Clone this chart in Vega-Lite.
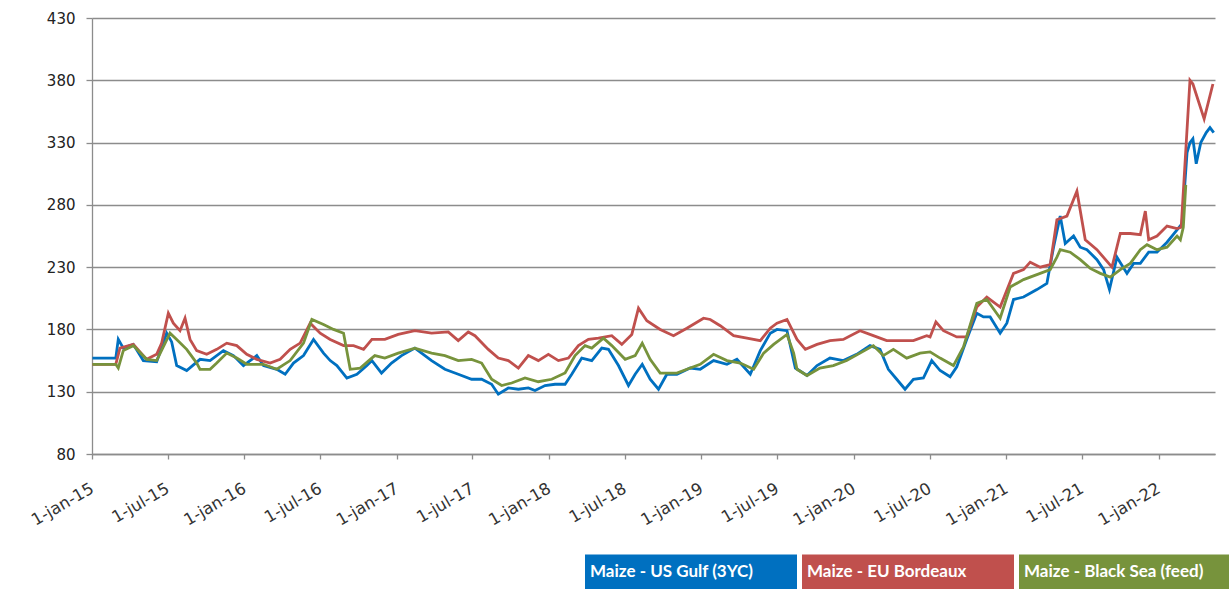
{
"$schema": "https://vega.github.io/schema/vega-lite/v6.json",
"width": 1123, "height": 436,
"autosize": {"type": "none"},
"padding": {"left": 92, "top": 18, "right": 14, "bottom": 135},
"background": "white",
"config": {"view": {"stroke": null}},
"datasets": {
"us": [{"d":"2015-01-02","v":157},{"d":"2015-02-27","v":157},{"d":"2015-03-05","v":172},{"d":"2015-03-17","v":165},{"d":"2015-04-10","v":168},{"d":"2015-05-04","v":155},{"d":"2015-06-05","v":154},{"d":"2015-06-29","v":177},{"d":"2015-07-11","v":170},{"d":"2015-07-23","v":151},{"d":"2015-08-16","v":147},{"d":"2015-09-17","v":156},{"d":"2015-10-11","v":155},{"d":"2015-11-12","v":163},{"d":"2015-12-06","v":159},{"d":"2015-12-30","v":151},{"d":"2016-01-31","v":159},{"d":"2016-02-16","v":151},{"d":"2016-03-19","v":148},{"d":"2016-04-08","v":144},{"d":"2016-04-28","v":153},{"d":"2016-05-22","v":159},{"d":"2016-06-15","v":172},{"d":"2016-07-09","v":161},{"d":"2016-07-25","v":155},{"d":"2016-08-10","v":151},{"d":"2016-09-03","v":141},{"d":"2016-09-27","v":144},{"d":"2016-10-21","v":151},{"d":"2016-11-02","v":155},{"d":"2016-11-25","v":145},{"d":"2016-12-19","v":153},{"d":"2017-01-12","v":159},{"d":"2017-02-13","v":165},{"d":"2017-03-01","v":161},{"d":"2017-03-25","v":155},{"d":"2017-04-26","v":148},{"d":"2017-05-28","v":144},{"d":"2017-06-29","v":140},{"d":"2017-07-23","v":140},{"d":"2017-08-16","v":136},{"d":"2017-09-01","v":128},{"d":"2017-09-25","v":133},{"d":"2017-10-19","v":132},{"d":"2017-11-12","v":133},{"d":"2017-11-28","v":131},{"d":"2017-12-22","v":135},{"d":"2018-01-15","v":136},{"d":"2018-02-08","v":136},{"d":"2018-02-24","v":144},{"d":"2018-03-20","v":157},{"d":"2018-04-13","v":155},{"d":"2018-05-07","v":165},{"d":"2018-05-23","v":164},{"d":"2018-06-16","v":151},{"d":"2018-07-10","v":135},{"d":"2018-07-26","v":144},{"d":"2018-08-12","v":152},{"d":"2018-08-31","v":140},{"d":"2018-09-20","v":132},{"d":"2018-10-10","v":144},{"d":"2018-11-03","v":144},{"d":"2018-12-05","v":149},{"d":"2018-12-29","v":148},{"d":"2019-01-30","v":155},{"d":"2019-03-03","v":152},{"d":"2019-03-27","v":156},{"d":"2019-04-28","v":144},{"d":"2019-05-22","v":163},{"d":"2019-06-15","v":177},{"d":"2019-07-01","v":180},{"d":"2019-07-25","v":179},{"d":"2019-08-14","v":149},{"d":"2019-09-11","v":143},{"d":"2019-10-05","v":151},{"d":"2019-11-05","v":157},{"d":"2019-12-07","v":155},{"d":"2020-01-08","v":160},{"d":"2020-02-09","v":167},{"d":"2020-03-04","v":164},{"d":"2020-03-24","v":148},{"d":"2020-04-13","v":140},{"d":"2020-05-03","v":132},{"d":"2020-05-23","v":140},{"d":"2020-06-16","v":141},{"d":"2020-07-06","v":155},{"d":"2020-07-26","v":147},{"d":"2020-08-19","v":142},{"d":"2020-09-04","v":150},{"d":"2020-09-28","v":172},{"d":"2020-10-22","v":193},{"d":"2020-11-07","v":190},{"d":"2020-11-23","v":190},{"d":"2020-12-17","v":177},{"d":"2021-01-02","v":185},{"d":"2021-01-18","v":204},{"d":"2021-02-11","v":206},{"d":"2021-02-27","v":209},{"d":"2021-03-15","v":212},{"d":"2021-04-08","v":217},{"d":"2021-04-24","v":246},{"d":"2021-05-10","v":271},{"d":"2021-05-22","v":249},{"d":"2021-06-11","v":255},{"d":"2021-06-27","v":246},{"d":"2021-07-13","v":244},{"d":"2021-08-06","v":236},{"d":"2021-08-22","v":228},{"d":"2021-09-05","v":212},{"d":"2021-09-23","v":238},{"d":"2021-10-17","v":225},{"d":"2021-11-02","v":233},{"d":"2021-11-18","v":233},{"d":"2021-12-08","v":242},{"d":"2021-12-28","v":242},{"d":"2022-01-21","v":250},{"d":"2022-02-14","v":260},{"d":"2022-02-26","v":265},{"d":"2022-03-10","v":322},{"d":"2022-03-17","v":330},{"d":"2022-03-24","v":333},{"d":"2022-04-01","v":313},{"d":"2022-04-12","v":330},{"d":"2022-04-25","v":338},{"d":"2022-05-04","v":342},{"d":"2022-05-13","v":338}],
"eu": [{"d":"2015-01-02","v":152},{"d":"2015-02-27","v":152},{"d":"2015-03-09","v":165},{"d":"2015-04-10","v":168},{"d":"2015-05-12","v":156},{"d":"2015-06-05","v":160},{"d":"2015-06-17","v":169},{"d":"2015-07-03","v":193},{"d":"2015-07-15","v":185},{"d":"2015-07-31","v":179},{"d":"2015-08-12","v":189},{"d":"2015-08-24","v":172},{"d":"2015-09-09","v":163},{"d":"2015-10-03","v":160},{"d":"2015-10-27","v":164},{"d":"2015-11-20","v":169},{"d":"2015-12-14","v":167},{"d":"2016-01-07","v":160},{"d":"2016-01-31","v":156},{"d":"2016-03-03","v":153},{"d":"2016-03-27","v":156},{"d":"2016-04-20","v":164},{"d":"2016-05-14","v":169},{"d":"2016-06-07","v":185},{"d":"2016-07-01","v":177},{"d":"2016-07-25","v":172},{"d":"2016-08-26","v":167},{"d":"2016-09-19","v":167},{"d":"2016-10-13","v":164},{"d":"2016-11-02","v":172},{"d":"2016-12-03","v":172},{"d":"2017-01-04","v":176},{"d":"2017-02-13","v":179},{"d":"2017-03-25","v":177},{"d":"2017-05-04","v":178},{"d":"2017-05-28","v":171},{"d":"2017-06-21","v":178},{"d":"2017-07-07","v":175},{"d":"2017-08-08","v":164},{"d":"2017-09-01","v":157},{"d":"2017-09-25","v":155},{"d":"2017-10-19","v":149},{"d":"2017-11-12","v":159},{"d":"2017-12-06","v":155},{"d":"2017-12-30","v":160},{"d":"2018-01-23","v":155},{"d":"2018-02-16","v":157},{"d":"2018-03-12","v":167},{"d":"2018-04-05","v":172},{"d":"2018-04-29","v":173},{"d":"2018-05-31","v":175},{"d":"2018-06-24","v":168},{"d":"2018-07-18","v":176},{"d":"2018-08-03","v":197},{"d":"2018-08-23","v":187},{"d":"2018-09-24","v":180},{"d":"2018-10-26","v":175},{"d":"2018-11-27","v":181},{"d":"2019-01-06","v":189},{"d":"2019-01-22","v":188},{"d":"2019-02-15","v":183},{"d":"2019-03-19","v":175},{"d":"2019-04-20","v":173},{"d":"2019-05-22","v":171},{"d":"2019-06-15","v":181},{"d":"2019-07-01","v":185},{"d":"2019-07-25","v":188},{"d":"2019-08-18","v":172},{"d":"2019-09-07","v":164},{"d":"2019-10-05","v":168},{"d":"2019-11-05","v":171},{"d":"2019-12-07","v":172},{"d":"2020-01-16","v":179},{"d":"2020-02-17","v":175},{"d":"2020-03-20","v":171},{"d":"2020-04-21","v":171},{"d":"2020-05-23","v":171},{"d":"2020-06-24","v":175},{"d":"2020-07-02","v":174},{"d":"2020-07-16","v":186},{"d":"2020-08-03","v":179},{"d":"2020-09-04","v":174},{"d":"2020-09-28","v":174},{"d":"2020-10-22","v":198},{"d":"2020-11-15","v":206},{"d":"2020-12-17","v":198},{"d":"2021-01-18","v":225},{"d":"2021-02-11","v":228},{"d":"2021-02-27","v":234},{"d":"2021-03-23","v":230},{"d":"2021-04-16","v":232},{"d":"2021-05-02","v":268},{"d":"2021-05-26","v":271},{"d":"2021-06-19","v":291},{"d":"2021-07-09","v":252},{"d":"2021-08-06","v":244},{"d":"2021-09-11","v":230},{"d":"2021-10-01","v":257},{"d":"2021-10-25","v":257},{"d":"2021-11-18","v":256},{"d":"2021-11-30","v":275},{"d":"2021-12-08","v":252},{"d":"2021-12-28","v":255},{"d":"2022-01-21","v":263},{"d":"2022-02-14","v":261},{"d":"2022-02-24","v":262},{"d":"2022-03-17","v":380},{"d":"2022-03-24","v":377},{"d":"2022-04-20","v":349},{"d":"2022-05-11","v":377}],
"bs": [{"d":"2015-01-02","v":152},{"d":"2015-02-27","v":152},{"d":"2015-03-05","v":149},{"d":"2015-03-17","v":163},{"d":"2015-04-10","v":167},{"d":"2015-05-12","v":156},{"d":"2015-06-05","v":155},{"d":"2015-07-07","v":177},{"d":"2015-07-23","v":172},{"d":"2015-08-16","v":164},{"d":"2015-09-09","v":153},{"d":"2015-09-17","v":148},{"d":"2015-10-11","v":148},{"d":"2015-10-27","v":153},{"d":"2015-11-20","v":161},{"d":"2015-12-14","v":157},{"d":"2016-01-07","v":152},{"d":"2016-02-16","v":152},{"d":"2016-03-19","v":148},{"d":"2016-04-20","v":155},{"d":"2016-05-22","v":169},{"d":"2016-06-11","v":188},{"d":"2016-07-09","v":184},{"d":"2016-08-02","v":180},{"d":"2016-08-26","v":177},{"d":"2016-09-11","v":148},{"d":"2016-10-05","v":149},{"d":"2016-10-29","v":156},{"d":"2016-11-09","v":159},{"d":"2016-12-03","v":157},{"d":"2017-01-04","v":161},{"d":"2017-02-13","v":165},{"d":"2017-03-25","v":161},{"d":"2017-04-26","v":159},{"d":"2017-05-28","v":155},{"d":"2017-06-29","v":156},{"d":"2017-07-23","v":153},{"d":"2017-08-16","v":140},{"d":"2017-09-09","v":135},{"d":"2017-10-03","v":137},{"d":"2017-11-04","v":141},{"d":"2017-12-06","v":138},{"d":"2018-01-07","v":140},{"d":"2018-02-08","v":145},{"d":"2018-03-04","v":159},{"d":"2018-03-28","v":167},{"d":"2018-04-13","v":165},{"d":"2018-05-11","v":173},{"d":"2018-05-31","v":167},{"d":"2018-07-02","v":156},{"d":"2018-07-26","v":159},{"d":"2018-08-12","v":169},{"d":"2018-08-31","v":156},{"d":"2018-09-24","v":145},{"d":"2018-11-03","v":145},{"d":"2018-11-27","v":148},{"d":"2018-12-29","v":152},{"d":"2019-01-30","v":160},{"d":"2019-03-03","v":155},{"d":"2019-04-04","v":153},{"d":"2019-05-06","v":148},{"d":"2019-05-30","v":161},{"d":"2019-06-23","v":168},{"d":"2019-07-25","v":176},{"d":"2019-08-10","v":161},{"d":"2019-08-18","v":148},{"d":"2019-09-11","v":143},{"d":"2019-10-12","v":149},{"d":"2019-11-13","v":151},{"d":"2019-12-15","v":155},{"d":"2020-01-16","v":161},{"d":"2020-02-17","v":167},{"d":"2020-03-12","v":159},{"d":"2020-04-05","v":164},{"d":"2020-05-07","v":157},{"d":"2020-06-08","v":161},{"d":"2020-07-02","v":162},{"d":"2020-07-26","v":157},{"d":"2020-08-27","v":151},{"d":"2020-09-20","v":166},{"d":"2020-10-22","v":201},{"d":"2020-11-15","v":204},{"d":"2020-12-17","v":189},{"d":"2021-01-10","v":214},{"d":"2021-02-11","v":220},{"d":"2021-03-15","v":224},{"d":"2021-04-16","v":228},{"d":"2021-05-02","v":238},{"d":"2021-05-10","v":244},{"d":"2021-06-03","v":242},{"d":"2021-06-27","v":236},{"d":"2021-07-21","v":229},{"d":"2021-08-14","v":225},{"d":"2021-09-07","v":222},{"d":"2021-10-01","v":228},{"d":"2021-10-25","v":233},{"d":"2021-11-18","v":244},{"d":"2021-12-04","v":248},{"d":"2021-12-28","v":244},{"d":"2022-01-21","v":246},{"d":"2022-02-14","v":255},{"d":"2022-02-22","v":252},{"d":"2022-03-01","v":262},{"d":"2022-03-07","v":296}]
},
"encoding": {
  "x": {"field": "d", "type": "temporal",
    "scale": {"type": "utc", "domain": [{"year": 2015, "month": 1, "date": 1, "utc": true}, {"year": 2022, "month": 5, "date": 16, "utc": true}]},
    "axis": {"title": null, "grid": false,
      "values": [{"year":2015,"month":1,"date":1,"utc":true},{"year":2015,"month":7,"date":1,"utc":true},{"year":2016,"month":1,"date":1,"utc":true},{"year":2016,"month":7,"date":1,"utc":true},{"year":2017,"month":1,"date":1,"utc":true},{"year":2017,"month":7,"date":1,"utc":true},{"year":2018,"month":1,"date":1,"utc":true},{"year":2018,"month":7,"date":1,"utc":true},{"year":2019,"month":1,"date":1,"utc":true},{"year":2019,"month":7,"date":1,"utc":true},{"year":2020,"month":1,"date":1,"utc":true},{"year":2020,"month":7,"date":1,"utc":true},{"year":2021,"month":1,"date":1,"utc":true},{"year":2021,"month":7,"date":1,"utc":true},{"year":2022,"month":1,"date":1,"utc":true}],
      "labelExpr": "lower(utcFormat(datum.value, '%-d-%b-%y'))",
      "labelAngle": -30, "labelAlign": "right", "labelBaseline": "middle", "labelPadding": 28,
      "labelFont": "DejaVu Sans", "labelFontSize": 16.5, "labelColor": "#333333",
      "labelOverlap": false, "labelFlush": false,
      "tickSize": 5, "tickColor": "#8c8c8c", "tickWidth": 1.3, "domainColor": "#8c8c8c", "domainWidth": 1.3}},
  "y": {"field": "v", "type": "quantitative",
    "scale": {"domain": [80, 430], "nice": false, "zero": false},
    "axis": {"title": null, "values": [80,130,180,230,280,330,380,430],
      "grid": true, "gridColor": "#8c8c8c", "gridWidth": 1.3,
      "domainColor": "#8c8c8c", "domainWidth": 1.3, "tickColor": "#8c8c8c", "tickWidth": 1.3, "tickSize": 6,
      "labelPadding": 11, "labelFont": "DejaVu Sans", "labelFontSize": 15, "labelColor": "#222222"}}
},
"layer": [
  {"data": {"name": "us"}, "mark": {"type": "line", "strokeWidth": 2.8},
   "encoding": {"color": {"datum": "Maize - US Gulf (3YC)", "type": "nominal",
     "scale": {"domain": ["Maize - US Gulf (3YC)", "Maize - EU Bordeaux", "Maize - Black Sea (feed)"], "range": ["#0070c0", "#c0504d", "#77933c"]},
     "legend": {"orient": "none", "legendX": 493, "legendY": 448, "direction": "horizontal", "columns": 3,
       "columnPadding": 5, "rowPadding": 0, "padding": 0, "title": null,
       "symbolType": "M-1,-0.17H1V0.17H-1Z", "symbolSize": 44944, "symbolStrokeWidth": 0,
       "labelOffset": -207, "labelColor": "white", "labelFont": "Lato", "labelFontWeight": "bold",
       "labelFontSize": 17, "labelLimit": 400,
       "encode": {"symbols": {"update": {"fill": {"scale": "color", "field": "value"}, "fillOpacity": {"value": 1}, "stroke": {"value": "transparent"}, "opacity": {"value": 1}}}}}}}},
  {"data": {"name": "eu"}, "mark": {"type": "line", "strokeWidth": 2.8},
   "encoding": {"color": {"datum": "Maize - EU Bordeaux", "type": "nominal"}}},
  {"data": {"name": "bs"}, "mark": {"type": "line", "strokeWidth": 2.8},
   "encoding": {"color": {"datum": "Maize - Black Sea (feed)", "type": "nominal"}}}
]
}
